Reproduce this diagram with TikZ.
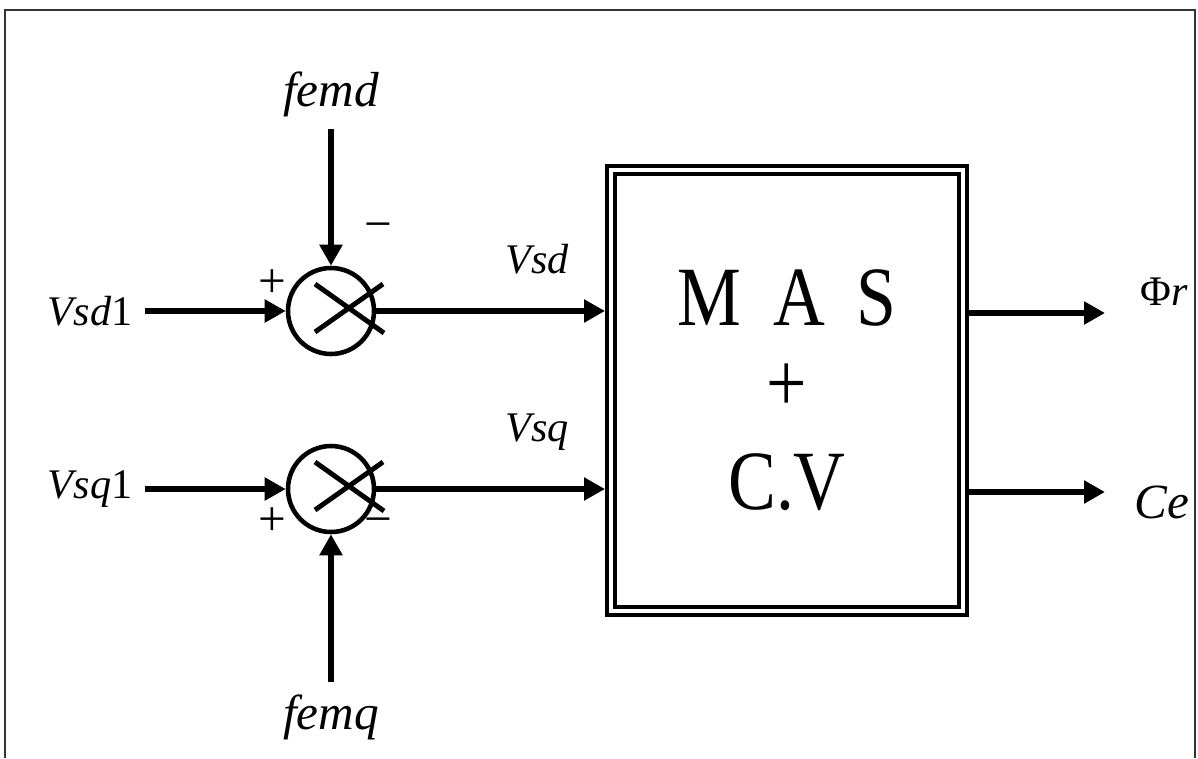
\documentclass[tikz,border=0pt]{standalone}
\usepackage{fontspec}
\setmainfont{Liberation Serif}
\newfontfamily\blockfont[FakeStretch=0.85]{Liberation Serif}
\usepackage{tikz}
\usetikzlibrary{arrows.meta, positioning, calc}

\begin{document}
\begin{tikzpicture}[
    sig/.style={line width=1.6pt, -{Triangle[length=2.1mm, width=2.2mm]}},
    sumnode/.style={circle, draw, line width=1.3pt, minimum size=0.86cm, inner sep=0pt},
    lbl/.style={font=\fontsize{12}{14}\selectfont\itshape},
    femlbl/.style={font=\fontsize{14}{16}\selectfont\itshape},
    sgn/.style={font=\fontsize{14}{16}\selectfont, inner sep=0pt}
  ]
  \useasboundingbox (0,0) rectangle (11.98,7.58);
  \draw[line width=0.7pt, black!80] (0.05,0) |- (11.95,7.48) -- (11.95,0);

  % summing junctions
  \node[sumnode] (s1) at (3.31,4.47) {};
  \node[sumnode] (s2) at (3.31,2.69) {};
  \draw[line width=1.4pt] ($(s1)+(-0.16,0.27)$) -- ($(s1)+(0.53,-0.22)$);
  \draw[line width=1.4pt] ($(s1)+(0.52,0.27)$) -- ($(s1)+(-0.16,-0.21)$);
  \draw[line width=1.4pt] ($(s2)+(-0.16,0.27)$) -- ($(s2)+(0.53,-0.22)$);
  \draw[line width=1.4pt] ($(s2)+(0.52,0.27)$) -- ($(s2)+(-0.16,-0.21)$);

  \node[sgn] (p1) at (2.72,4.74) {+};
  \node[sgn] (m1) at (3.78,5.26) {−};
  \node[sgn] (p2) at (2.72,2.36) {+};
  \node[sgn] (m2) at (3.78,2.31) {−};

  % machine block
  \node[draw, double, line width=1.1pt, double distance=1.2pt,
        minimum width=3.52cm, minimum height=4.41cm, outer sep=1.7pt,
        align=center, font=\fontsize{24}{26}\selectfont\blockfont]
        (mas) at (7.87,3.675) {M\hspace{9pt}A\hspace{9pt}S\\[-1.6pt]+\\[2pt]C.V};

  % inputs
  \node[lbl] (vsd1) at (0.90,4.47) {Vsd{\upshape 1}};
  \node[lbl] (vsq1) at (0.90,2.69) {Vsq{\upshape 1}};
  \node[femlbl] (femd) at (3.31,6.64) {femd};
  \node[femlbl] (femq) at (3.31,0.41) {femq};

  \draw[sig] (vsd1) -- (s1);
  \draw[sig] (vsq1) -- (s2);
  \draw[sig] (femd) -- (s1);
  \draw[sig] (femq) -- (s2);

  \node[lbl] (vsd) at (5.37,4.99) {Vsd};
  \node[lbl] (vsq) at (5.37,3.26) {Vsq};
  \draw[sig] (s1) -- (s1 -| mas.west);
  \draw[sig] (s2) -- (s2 -| mas.west);

  % outputs
  \coordinate (phiend) at (11.05,4.45);
  \coordinate (ceend) at (11.05,2.66);
  \draw[sig] (mas.east |- phiend) -- (phiend);
  \draw[sig] (mas.east |- ceend) -- (ceend);
  \node[lbl] (phir) at (11.64,4.66) {{\upshape Φ}r};
  \node[femlbl] (ce) at (11.62,2.56) {Ce};
\end{tikzpicture}
\end{document}
